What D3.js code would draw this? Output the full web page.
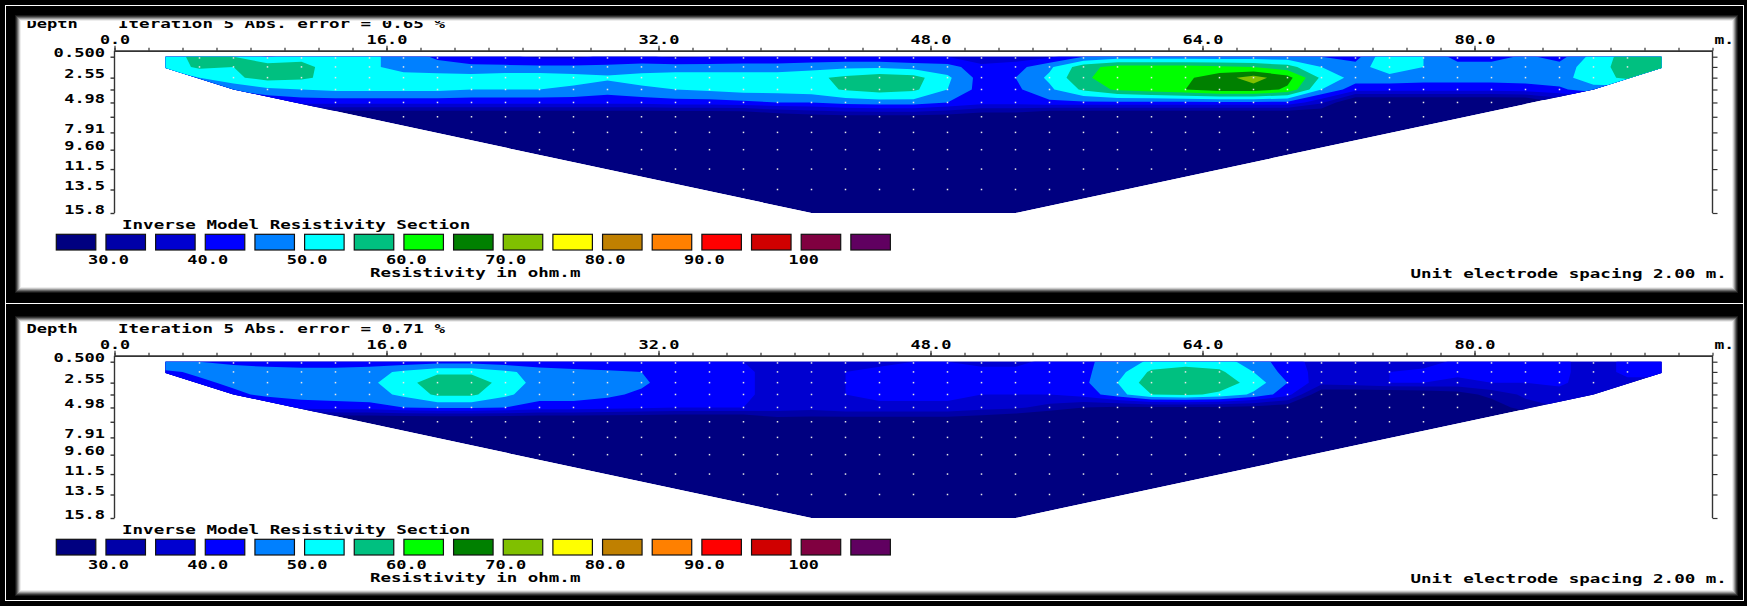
<!DOCTYPE html>
<html>
<head>
<meta charset="utf-8">
<script src="https://cdn.jsdelivr.net/npm/d3@7"></script>
<style>
  html, body { margin: 0; padding: 0; background: #000; }
  svg { display: block; }
  text { font-family: "DejaVu Sans Mono", "Liberation Mono", monospace; font-weight: bold; font-size: 12.5px; fill: #000; }
</style>
</head>
<body>
<svg id="chart" width="1747" height="606"></svg>
<script>
// ---- survey geometry -------------------------------------------------------
const lineLength = 94;                       // electrode line, m
const xNodes = d3.range(3, 92, 2);           // model column centres, m
const layerDepths = [0.5, 1.5, 2.55, 3.71, 4.98, 6.38, 7.91, 9.60, 11.5, 13.5, 15.8];
const depthTickValues = [0.5, 2.55, 3.71, 4.98, 6.38, 7.91, 9.60, 11.5, 13.5, 15.8];
const depthTickLabels = ["0.500", "2.55", "", "4.98", "", "7.91", "9.60", "11.5", "13.5", "15.8"];
const distanceMajor = [0, 16, 32, 48, 64, 80];
const distanceMinor = d3.range(0, 95, 2);
// outline of the inverted section (distance m, depth m)
const sectionOutline = [[3, 0.5], [3, 1.6], [7, 3.71], [41, 15.8], [53, 15.8], [87, 3.71], [91, 1.6], [91, 0.5]];

// ---- colour classes ----------------------------------------------------------
const contourLevels = [30, 35, 40, 45, 50, 55, 60, 65, 70, 75, 80, 85, 90, 95, 100, 105];
const classColours = ["#000080", "#0000a8", "#0000d0", "#0000ff", "#0080ff", "#00ffff", "#00c080",
  "#00ff00", "#008000", "#80c000", "#ffff00", "#c08000", "#ff8000", "#ff0000", "#d00000", "#800040", "#600060"];
const legendLabels = ["30.0", "40.0", "50.0", "60.0", "70.0", "80.0", "90.0", "100"];

// ---- inverse model resistivity (ohm.m), one row per layer, columns at xNodes --
const deep = xNodes.map(() => 20);
const modelA = [
  [52,57,55,49.5,53,53,51,48,44,42,41,39,39,41,41,39,40,41,41,41,41,41,40,40,35,37,39,45,47,47,47,47,47,47,45,43,55,50,43,43,46,43,52,57,57],
  [52,56,55,58,57,52,51,48,47,46,46,46,46,46,47,47,47,47,47,48,49,49,48,47,42,43,49,58,62,62,62,61,60,57,50,47,54,50,47,47,47,47,53,57,57],
  [45,50,54,57,56,53,53,52,52,52,53,53,52,51,52,53,53,53,53,54,56,58,57,51,43,45,51,59,63,64,64,68,72,67,54,48,48,47,47,47,47,48,53,56,50],
  [40,42,46,49,50,51,51,51,51,50,50,50,49,47,49,50,51,52,52,53,55.5,57,56,50,43,44,49,56,61,63,65,68,68,64,50,42,42,42,42,42,43,44,48,47,45],
  [35,35,37,40,42,42,42,42,42,42,42,42,42,42,42,43,43,44,45,45,47,48,48,45,42,42,44,44,44,44,44,44,44,44,36,22,22,22,22,22,22,30,33,35,36],
  [21,21,21,21,21,21,21,21,21,21,21,21,21,21,21,21,21,21,25,27,28,28,28,27,25,25,20,20,20,20,20,20,20,20,22,22,22,22,22,22,22,22,22,22,22],
  deep, deep, deep, deep, deep
];
const modelB = [
  [50,45,44,43,42,42,42,42,43,43,42,41,40,40,40,40,40,40,38,37,38,39,40,40,39,39,41,44,47,51,53,52,48,42,38,38,39,38,41,41,41,41,38,41,42],
  [44,46,47,47,47,47,48,51,54,54,51,48,47,46,45,42,42,41,38,37,40,41,41,41,41,41,42,44,48,56,57,56,50,43,38,38,40,41,41,41,41,41,38,41,41],
  [40,44,46,47,47,48,49,53,58,58,53,48,47,47,46,42,42,41,38,37,40,41,41,41,41,41,41,44,50,58,59,58,53,45,37,38,40,40,39,40,40,41,37,39,39],
  [38,40,44,46,47,47,48,51,56,56,51,47,47,46,44,41,41,41,38,37,40,41,41,41,40,40,40,42,48,55,56,54,49,42,25,24,24,25,27,32,36,38,37,36,36],
  [35,36,38,40,42,43,43,45,46,46,45,43,43,42,41,40,40,40,38,37,39,39,39,39,37,36,33,30,29,29,29,29,28,26,22,22,22,22,23,26,33,35,36,36,36],
  [20,20,20,20,20,20,20,20,20,20,20,20,20,20,20,20,20,20,26,26,25,25,25,25,24,22,20,20,20,20,20,20,20,20,20,20,20,20,20,20,20,20,20,20,20],
  deep, deep, deep, deep, deep
];
const panels = [
  { model: modelA, iteration: 5, absError: "0.65", shiftY: 0,   frame: [15, 15, 1723, 278] },
  { model: modelB, iteration: 5, absError: "0.71", shiftY: 305, frame: [15, 316, 1723, 280] }
];

// ---- helpers -------------------------------------------------------------------
const charStep = 10.6;
function fitMono(sel) {
  sel.each(function () {
    const s = this.textContent;
    if (!s) return;
    d3.select(this).attr("textLength", s.length * charStep - 1.6).attr("lengthAdjust", "spacingAndGlyphs");
  });
}
function label(g, str, x, yPos, anchor) {
  g.append("text").attr("x", x).attr("y", yPos).attr("text-anchor", anchor || "start").text(str).call(fitMono);
}

const svg = d3.select("#chart");
svg.append("rect").attr("width", 1747).attr("height", 606).attr("fill", "#000");
svg.append("rect").attr("x", 5.5).attr("y", 5.5).attr("width", 1738).attr("height", 298)
  .attr("fill", "none").attr("stroke", "#fff");
svg.append("rect").attr("x", 5.5).attr("y", 303.5).attr("width", 1738).attr("height", 297)
  .attr("fill", "none").attr("stroke", "#fff");

const x = d3.scaleLinear().domain([0, lineLength]).range([114.5, 1712.5]);
const y = d3.scaleLinear().domain([layerDepths[0], layerDepths[layerDepths.length - 1]]).range([56.7, 213]);
const axisY = y(layerDepths[0]) - 6;
const legendX = d3.scaleLinear().domain([0, classColours.length]).range([56.3, 56.3 + classColours.length * 49.66]);

// grid coordinates of d3.contours -> distance / depth
const colToX = c => xNodes[0] + (c - 0.5) * (xNodes[1] - xNodes[0]);
function rowToDepth(r) {
  const t = r - 0.5, n = layerDepths.length - 1;
  if (t <= 0) return layerDepths[0] + t * (layerDepths[1] - layerDepths[0]);
  if (t >= n) return layerDepths[n] + (t - n) * (layerDepths[n] - layerDepths[n - 1]);
  const i = Math.floor(t), f = t - i;
  return layerDepths[i] + f * (layerDepths[i + 1] - layerDepths[i]);
}
const gridPath = d3.geoPath(d3.geoTransform({
  point: function (c, r) { this.stream.point(x(colToX(c)), y(rowToDepth(r))); }
}));

panels.forEach((p, pi) => {
  const [fx, fy, fw, fh] = p.frame;
  svg.append("rect").attr("x", fx).attr("y", fy).attr("width", fw).attr("height", fh).attr("fill", "#fff");

  const g = svg.append("g").attr("transform", `translate(0,${p.shiftY})`);

  // section outline and clip
  const outlinePx = sectionOutline.map(d => [x(d[0]), y(d[1])]);
  const clipId = "section-clip-" + pi;
  g.append("clipPath").attr("id", clipId).append("path").attr("d", d3.line()(outlinePx) + "Z");

  const body = g.append("g").attr("clip-path", `url(#${clipId})`);
  body.append("path").attr("d", d3.line()(outlinePx) + "Z").attr("fill", classColours[0]);

  const values = [];
  p.model.forEach(row => row.forEach(v => values.push(v)));
  const bands = d3.contours().size([xNodes.length, layerDepths.length]).thresholds(contourLevels)(values);
  body.selectAll("path.band").data(bands).join("path")
    .attr("class", "band")
    .attr("d", gridPath)
    .attr("fill", (d, i) => classColours[i + 1]);

  // model cell markers
  const marks = [];
  layerDepths.slice(0, -1).forEach(dp => {
    d3.range(5, 90, 2).forEach(xm => {
      const probe = dp + 0.05;
      if (d3.polygonContains(sectionOutline, [xm - 1.2, probe]) && d3.polygonContains(sectionOutline, [xm + 1.2, probe]))
        marks.push([xm, dp]);
    });
  });
  body.selectAll("rect.mark").data(marks).join("rect")
    .attr("class", "mark")
    .attr("x", d => x(d[0]) - 0.75).attr("y", d => y(d[1]) + (d[1] === layerDepths[0] ? 0.5 : -0.75))
    .attr("width", 1.5).attr("height", 1.5).attr("fill", "#e6e6e6");

  // distance axis
  const axisCol = "#333";
  const minorAxis = g.append("g").attr("transform", `translate(0,${axisY})`)
    .call(d3.axisTop(x).tickValues(distanceMinor).tickSize(3).tickSizeOuter(0).tickFormat(""));
  const majorAxis = g.append("g").attr("transform", `translate(0,${axisY})`)
    .call(d3.axisTop(x).tickValues(distanceMajor).tickSize(5).tickSizeOuter(0).tickPadding(2.2).tickFormat(d3.format(".1f")));
  [minorAxis, majorAxis].forEach(a => {
    a.select(".domain").attr("stroke", axisCol).attr("stroke-width", 1.6);
    a.selectAll(".tick line").attr("stroke", axisCol).attr("stroke-width", 1.2);
    a.attr("font-family", null).attr("font-size", null);
  });
  majorAxis.selectAll(".tick text").attr("fill", "#000").call(fitMono);
  label(g, "m.", x(lineLength) + 2, axisY - 7.2);

  // depth axes
  g.append("line").attr("x1", x(0)).attr("x2", x(0)).attr("y1", axisY).attr("y2", y(15.8))
    .attr("stroke", axisCol).attr("stroke-width", 1.4);
  g.append("line").attr("x1", x(lineLength)).attr("x2", x(lineLength)).attr("y1", axisY).attr("y2", y(15.8))
    .attr("stroke", axisCol).attr("stroke-width", 1.4);
  const left = g.append("g").attr("transform", `translate(${x(0)},0)`)
    .call(d3.axisLeft(y).tickValues(depthTickValues).tickSize(4).tickPadding(5.5)
      .tickFormat((d, i) => depthTickLabels[i]));
  left.select(".domain").remove();
  left.attr("font-family", null).attr("font-size", null);
  left.selectAll(".tick line").attr("stroke", axisCol).attr("stroke-width", 1.4);
  left.selectAll(".tick text").attr("dy", 0).attr("fill", "#000").call(fitMono);
  const right = g.append("g").attr("transform", `translate(${x(lineLength)},0)`)
    .call(d3.axisRight(y).tickValues(layerDepths).tickSize(5).tickFormat(""));
  right.select(".domain").remove();
  right.selectAll(".tick line").attr("stroke", axisCol).attr("stroke-width", 1.2);

  // header
  label(g, "Depth", 26.5, 28);
  label(g, `Iteration ${p.iteration} Abs. error = ${p.absError} %`, 118, 28);

  // colour legend
  label(g, "Inverse Model Resistivity Section", 122, 229);
  g.selectAll("rect.key").data(classColours).join("rect")
    .attr("class", "key")
    .attr("x", (d, i) => legendX(i)).attr("y", 234.3)
    .attr("width", 39.5).attr("height", 15.7)
    .attr("fill", d => d).attr("stroke", "#111").attr("stroke-width", 1.2);
  legendLabels.forEach((t, k) => label(g, t, legendX(2 * k + 1) + 2.5, 264, "middle"));
  label(g, "Resistivity in ohm.m", 370, 277);
  label(g, "Unit electrode spacing 2.00 m.", 1410.5, 277.5);

  // sunken window edge
  const edgeShades = ["#181818", "#3a3a3a", "#686868", "#9a9a9a", "#cacaca", "#ededed"];
  edgeShades.forEach((c, k) => {
    svg.append("rect").attr("x", fx + k + 0.5).attr("y", fy + k + 0.5)
      .attr("width", fw - 2 * k - 1).attr("height", fh - 2 * k - 1)
      .attr("fill", "none").attr("stroke", c).attr("stroke-width", 1);
  });
});
</script>
</body>
</html>
